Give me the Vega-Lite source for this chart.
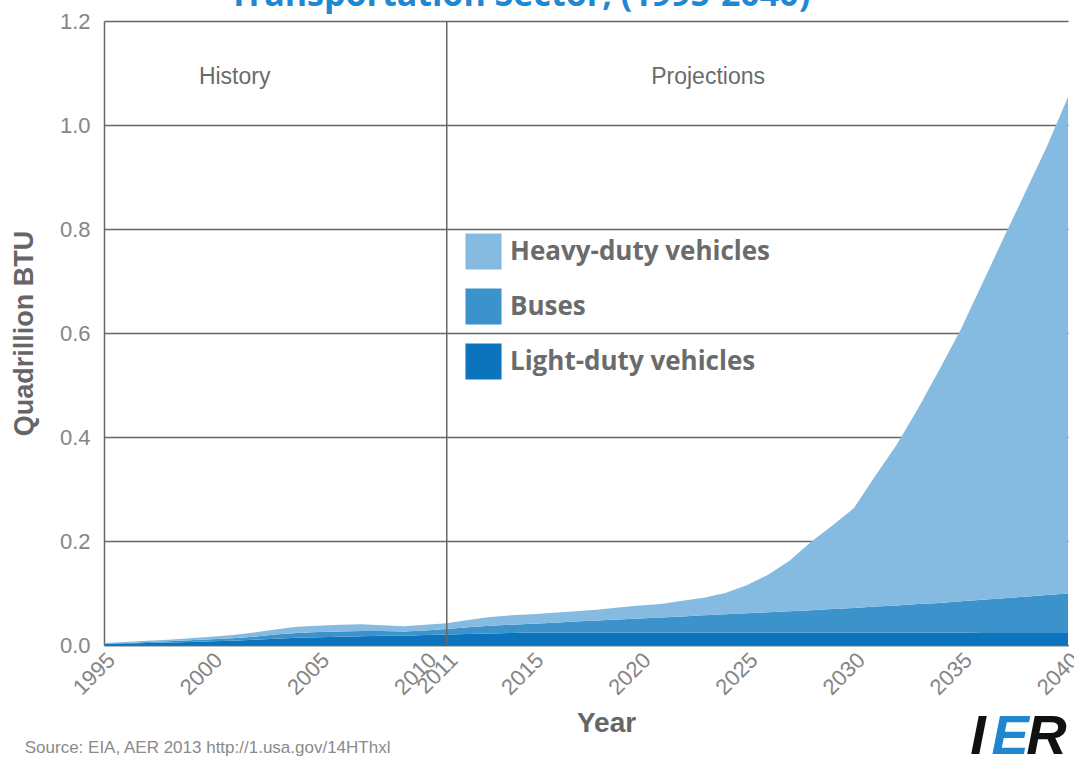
{
  "$schema": "https://vega.github.io/schema/vega-lite/v6.json",
  "width": 964,
  "height": 624,
  "autosize": "none",
  "padding": {"left": 104, "top": 21, "right": 6, "bottom": 114},
  "background": "white",
  "config": {
    "view": {"stroke": null},
    "axis": {
      "labelFont": "Liberation Sans",
      "labelColor": "#858585",
      "labelFontSize": 22,
      "titleFont": "Liberation Sans",
      "titleFontWeight": "bold",
      "titleColor": "#666666",
      "titleFontSize": 27,
      "domainColor": "#666666",
      "domainWidth": 1.5,
      "gridColor": "#666666",
      "gridWidth": 1.5,
      "ticks": false
    },
    "legend": {
      "orient": "none",
      "legendX": 361,
      "legendY": 212,
      "padding": 0,
      "title": null,
      "symbolType": "square",
      "symbolSize": 1300,
      "symbolStrokeWidth": 0,
      "symbolOpacity": 1,
      "labelFont": "Open Sans",
      "labelFontSize": 26,
      "labelFontWeight": "bold",
      "labelColor": "#6b6b6b",
      "labelOffset": 8,
      "labelLimit": 500,
      "rowPadding": 18
    }
  },
  "datasets": {
    "energy": [
      {"year": 1995, "category": "Light-duty vehicles", "value": 0.002},
      {"year": 1995, "category": "Buses", "value": 0.001},
      {"year": 1995, "category": "Heavy-duty vehicles", "value": 0.001},
      {"year": 1996, "category": "Light-duty vehicles", "value": 0.003},
      {"year": 1996, "category": "Buses", "value": 0.001},
      {"year": 1996, "category": "Heavy-duty vehicles", "value": 0.002},
      {"year": 1997, "category": "Light-duty vehicles", "value": 0.004},
      {"year": 1997, "category": "Buses", "value": 0.002},
      {"year": 1997, "category": "Heavy-duty vehicles", "value": 0.002},
      {"year": 1998, "category": "Light-duty vehicles", "value": 0.005},
      {"year": 1998, "category": "Buses", "value": 0.002},
      {"year": 1998, "category": "Heavy-duty vehicles", "value": 0.003},
      {"year": 1999, "category": "Light-duty vehicles", "value": 0.006},
      {"year": 1999, "category": "Buses", "value": 0.003},
      {"year": 1999, "category": "Heavy-duty vehicles", "value": 0.004},
      {"year": 2000, "category": "Light-duty vehicles", "value": 0.007},
      {"year": 2000, "category": "Buses", "value": 0.004},
      {"year": 2000, "category": "Heavy-duty vehicles", "value": 0.005},
      {"year": 2001, "category": "Light-duty vehicles", "value": 0.008},
      {"year": 2001, "category": "Buses", "value": 0.005},
      {"year": 2001, "category": "Heavy-duty vehicles", "value": 0.006},
      {"year": 2002, "category": "Light-duty vehicles", "value": 0.010},
      {"year": 2002, "category": "Buses", "value": 0.006},
      {"year": 2002, "category": "Heavy-duty vehicles", "value": 0.008},
      {"year": 2003, "category": "Light-duty vehicles", "value": 0.012},
      {"year": 2003, "category": "Buses", "value": 0.008},
      {"year": 2003, "category": "Heavy-duty vehicles", "value": 0.010},
      {"year": 2004, "category": "Light-duty vehicles", "value": 0.014},
      {"year": 2004, "category": "Buses", "value": 0.009},
      {"year": 2004, "category": "Heavy-duty vehicles", "value": 0.012},
      {"year": 2005, "category": "Light-duty vehicles", "value": 0.015},
      {"year": 2005, "category": "Buses", "value": 0.010},
      {"year": 2005, "category": "Heavy-duty vehicles", "value": 0.012},
      {"year": 2006, "category": "Light-duty vehicles", "value": 0.016},
      {"year": 2006, "category": "Buses", "value": 0.010},
      {"year": 2006, "category": "Heavy-duty vehicles", "value": 0.013},
      {"year": 2007, "category": "Light-duty vehicles", "value": 0.017},
      {"year": 2007, "category": "Buses", "value": 0.010},
      {"year": 2007, "category": "Heavy-duty vehicles", "value": 0.013},
      {"year": 2008, "category": "Light-duty vehicles", "value": 0.018},
      {"year": 2008, "category": "Buses", "value": 0.009},
      {"year": 2008, "category": "Heavy-duty vehicles", "value": 0.011},
      {"year": 2009, "category": "Light-duty vehicles", "value": 0.018},
      {"year": 2009, "category": "Buses", "value": 0.008},
      {"year": 2009, "category": "Heavy-duty vehicles", "value": 0.010},
      {"year": 2010, "category": "Light-duty vehicles", "value": 0.019},
      {"year": 2010, "category": "Buses", "value": 0.009},
      {"year": 2010, "category": "Heavy-duty vehicles", "value": 0.011},
      {"year": 2011, "category": "Light-duty vehicles", "value": 0.020},
      {"year": 2011, "category": "Buses", "value": 0.011},
      {"year": 2011, "category": "Heavy-duty vehicles", "value": 0.011},
      {"year": 2012, "category": "Light-duty vehicles", "value": 0.021},
      {"year": 2012, "category": "Buses", "value": 0.013},
      {"year": 2012, "category": "Heavy-duty vehicles", "value": 0.014},
      {"year": 2013, "category": "Light-duty vehicles", "value": 0.022},
      {"year": 2013, "category": "Buses", "value": 0.015},
      {"year": 2013, "category": "Heavy-duty vehicles", "value": 0.017},
      {"year": 2014, "category": "Light-duty vehicles", "value": 0.023},
      {"year": 2014, "category": "Buses", "value": 0.016},
      {"year": 2014, "category": "Heavy-duty vehicles", "value": 0.018},
      {"year": 2015, "category": "Light-duty vehicles", "value": 0.024},
      {"year": 2015, "category": "Buses", "value": 0.017},
      {"year": 2015, "category": "Heavy-duty vehicles", "value": 0.018},
      {"year": 2016, "category": "Light-duty vehicles", "value": 0.024},
      {"year": 2016, "category": "Buses", "value": 0.019},
      {"year": 2016, "category": "Heavy-duty vehicles", "value": 0.019},
      {"year": 2017, "category": "Light-duty vehicles", "value": 0.024},
      {"year": 2017, "category": "Buses", "value": 0.021},
      {"year": 2017, "category": "Heavy-duty vehicles", "value": 0.020},
      {"year": 2018, "category": "Light-duty vehicles", "value": 0.024},
      {"year": 2018, "category": "Buses", "value": 0.023},
      {"year": 2018, "category": "Heavy-duty vehicles", "value": 0.021},
      {"year": 2019, "category": "Light-duty vehicles", "value": 0.024},
      {"year": 2019, "category": "Buses", "value": 0.025},
      {"year": 2019, "category": "Heavy-duty vehicles", "value": 0.023},
      {"year": 2020, "category": "Light-duty vehicles", "value": 0.024},
      {"year": 2020, "category": "Buses", "value": 0.027},
      {"year": 2020, "category": "Heavy-duty vehicles", "value": 0.025},
      {"year": 2021, "category": "Light-duty vehicles", "value": 0.024},
      {"year": 2021, "category": "Buses", "value": 0.029},
      {"year": 2021, "category": "Heavy-duty vehicles", "value": 0.026},
      {"year": 2022, "category": "Light-duty vehicles", "value": 0.024},
      {"year": 2022, "category": "Buses", "value": 0.031},
      {"year": 2022, "category": "Heavy-duty vehicles", "value": 0.030},
      {"year": 2023, "category": "Light-duty vehicles", "value": 0.024},
      {"year": 2023, "category": "Buses", "value": 0.033},
      {"year": 2023, "category": "Heavy-duty vehicles", "value": 0.034},
      {"year": 2024, "category": "Light-duty vehicles", "value": 0.024},
      {"year": 2024, "category": "Buses", "value": 0.035},
      {"year": 2024, "category": "Heavy-duty vehicles", "value": 0.041},
      {"year": 2025, "category": "Light-duty vehicles", "value": 0.024},
      {"year": 2025, "category": "Buses", "value": 0.037},
      {"year": 2025, "category": "Heavy-duty vehicles", "value": 0.054},
      {"year": 2026, "category": "Light-duty vehicles", "value": 0.024},
      {"year": 2026, "category": "Buses", "value": 0.039},
      {"year": 2026, "category": "Heavy-duty vehicles", "value": 0.072},
      {"year": 2027, "category": "Light-duty vehicles", "value": 0.024},
      {"year": 2027, "category": "Buses", "value": 0.041},
      {"year": 2027, "category": "Heavy-duty vehicles", "value": 0.097},
      {"year": 2028, "category": "Light-duty vehicles", "value": 0.024},
      {"year": 2028, "category": "Buses", "value": 0.043},
      {"year": 2028, "category": "Heavy-duty vehicles", "value": 0.131},
      {"year": 2029, "category": "Light-duty vehicles", "value": 0.024},
      {"year": 2029, "category": "Buses", "value": 0.045},
      {"year": 2029, "category": "Heavy-duty vehicles", "value": 0.161},
      {"year": 2030, "category": "Light-duty vehicles", "value": 0.024},
      {"year": 2030, "category": "Buses", "value": 0.047},
      {"year": 2030, "category": "Heavy-duty vehicles", "value": 0.192},
      {"year": 2031, "category": "Light-duty vehicles", "value": 0.024},
      {"year": 2031, "category": "Buses", "value": 0.050},
      {"year": 2031, "category": "Heavy-duty vehicles", "value": 0.251},
      {"year": 2032, "category": "Light-duty vehicles", "value": 0.024},
      {"year": 2032, "category": "Buses", "value": 0.052},
      {"year": 2032, "category": "Heavy-duty vehicles", "value": 0.309},
      {"year": 2033, "category": "Light-duty vehicles", "value": 0.024},
      {"year": 2033, "category": "Buses", "value": 0.055},
      {"year": 2033, "category": "Heavy-duty vehicles", "value": 0.376},
      {"year": 2034, "category": "Light-duty vehicles", "value": 0.024},
      {"year": 2034, "category": "Buses", "value": 0.057},
      {"year": 2034, "category": "Heavy-duty vehicles", "value": 0.449},
      {"year": 2035, "category": "Light-duty vehicles", "value": 0.024},
      {"year": 2035, "category": "Buses", "value": 0.060},
      {"year": 2035, "category": "Heavy-duty vehicles", "value": 0.523},
      {"year": 2036, "category": "Light-duty vehicles", "value": 0.023},
      {"year": 2036, "category": "Buses", "value": 0.064},
      {"year": 2036, "category": "Heavy-duty vehicles", "value": 0.608},
      {"year": 2037, "category": "Light-duty vehicles", "value": 0.023},
      {"year": 2037, "category": "Buses", "value": 0.067},
      {"year": 2037, "category": "Heavy-duty vehicles", "value": 0.693},
      {"year": 2038, "category": "Light-duty vehicles", "value": 0.023},
      {"year": 2038, "category": "Buses", "value": 0.070},
      {"year": 2038, "category": "Heavy-duty vehicles", "value": 0.777},
      {"year": 2039, "category": "Light-duty vehicles", "value": 0.023},
      {"year": 2039, "category": "Buses", "value": 0.073},
      {"year": 2039, "category": "Heavy-duty vehicles", "value": 0.861},
      {"year": 2040, "category": "Light-duty vehicles", "value": 0.023},
      {"year": 2040, "category": "Buses", "value": 0.076},
      {"year": 2040, "category": "Heavy-duty vehicles", "value": 0.955}
    ],
    "heading": [
      {"year": 2014.4, "value": 1.228, "label": "Transportation Sector, (1995-2040)"}
    ],
    "notes": [
      {"year": 2001.1, "value": 1.093, "label": "History"},
      {"year": 2023.2, "value": 1.093, "label": "Projections"}
    ],
    "source": [
      {"year": 1991.3, "value": -0.198, "label": "Source: EIA, AER 2013 http://1.usa.gov/14HThxl"}
    ],
    "logo": [
      {"year": 2035.8, "value": -0.176, "label": "I", "part": "dark"},
      {"year": 2037.3, "value": -0.176, "label": "E", "part": "blue"},
      {"year": 2039.0, "value": -0.176, "label": "R", "part": "dark"}
    ]
  },
  "layer": [
    {
      "data": {"name": "energy"},
      "transform": [
        {"calculate": "indexof(['Light-duty vehicles','Buses','Heavy-duty vehicles'], datum.category)", "as": "stackOrder"}
      ],
      "mark": {"type": "area", "opacity": 1},
      "encoding": {
        "x": {
          "field": "year",
          "type": "quantitative",
          "scale": {"domain": [1995, 2040], "nice": false, "zero": false},
          "axis": {
            "values": [1995, 2000, 2005, 2010, 2011, 2015, 2020, 2025, 2030, 2035, 2040],
            "format": "d",
            "labelAngle": -45,
            "labelPadding": 4,
            "labelOverlap": false,
            "grid": false,
            "title": "Year",
            "titleFontSize": 28,
            "titleX": 502,
            "titlePadding": 11
          }
        },
        "y": {
          "field": "value",
          "type": "quantitative",
          "stack": "zero",
          "scale": {"domain": [0, 1.2], "nice": false},
          "axis": {
            "values": [0, 0.2, 0.4, 0.6, 0.8, 1.0, 1.2],
            "format": ".1f",
            "labelPadding": 14,
            "grid": true,
            "title": "Quadrillion BTU",
            "titlePadding": 21
          }
        },
        "color": {
          "field": "category",
          "type": "nominal",
          "scale": {
            "domain": ["Heavy-duty vehicles", "Buses", "Light-duty vehicles"],
            "range": ["#85bbe0", "#3c93cc", "#0b74bd"]
          },
          "legend": {}
        },
        "order": {"field": "stackOrder", "type": "quantitative", "sort": "ascending"}
      }
    },
    {
      "mark": {"type": "rule", "color": "#666666", "strokeWidth": 1.5},
      "encoding": {"x": {"datum": 2011}}
    },
    {
      "data": {"name": "heading"},
      "mark": {"type": "text", "font": "Open Sans", "fontSize": 34, "fontWeight": "bold", "color": "#1e88d2", "align": "center", "baseline": "alphabetic"},
      "encoding": {
        "x": {"field": "year", "type": "quantitative"},
        "y": {"field": "value", "type": "quantitative"},
        "text": {"field": "label"}
      }
    },
    {
      "data": {"name": "notes"},
      "mark": {"type": "text", "font": "Liberation Sans", "fontSize": 23, "color": "#6b6b6b", "align": "center", "baseline": "middle"},
      "encoding": {
        "x": {"field": "year", "type": "quantitative"},
        "y": {"field": "value", "type": "quantitative"},
        "text": {"field": "label"}
      }
    },
    {
      "data": {"name": "source"},
      "mark": {"type": "text", "font": "Liberation Sans", "fontSize": 17, "color": "#8a8a8a", "align": "left", "baseline": "middle"},
      "encoding": {
        "x": {"field": "year", "type": "quantitative"},
        "y": {"field": "value", "type": "quantitative"},
        "text": {"field": "label"}
      }
    },
    {
      "data": {"name": "logo"},
      "mark": {"type": "text", "font": "Liberation Sans", "fontSize": 56, "fontWeight": "bold", "fontStyle": "italic", "align": "center", "baseline": "middle"},
      "encoding": {
        "x": {"field": "year", "type": "quantitative"},
        "y": {"field": "value", "type": "quantitative"},
        "text": {"field": "label"},
        "color": {
          "field": "part",
          "type": "nominal",
          "scale": {"domain": ["dark", "blue"], "range": ["#111111", "#1f86cf"]},
          "legend": null
        }
      }
    }
  ],
  "resolve": {"scale": {"color": "independent"}}
}
